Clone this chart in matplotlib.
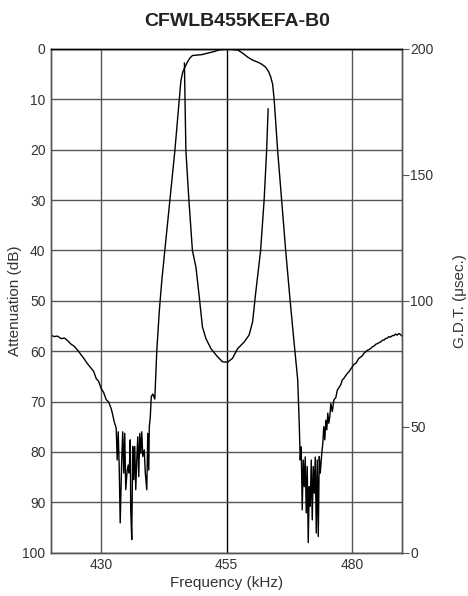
import matplotlib
matplotlib.use("Agg")
import matplotlib.pyplot as plt

plt.rcParams['font.family'] = ['Liberation Sans', 'DejaVu Sans']

title = "CFWLB455KEFA-B0"
x_ticks = [430, 455, 480]
att_ticks = [0, 10, 20, 30, 40, 50, 60, 70, 80, 90, 100]
gdt_ticks = [0, 50, 100, 150, 200]

# Attenuation curve (kHz, dB)
att_freq = [420.0, 420.6, 421.3, 422.0, 422.7, 423.3, 424.0, 424.6, 425.3, 425.9,
            426.6, 427.2, 428.0, 428.5, 429.0, 429.5, 430.0, 430.5, 431.0, 431.5,
            432.0, 432.3, 432.6, 432.8,
            433.0, 433.2, 433.4, 433.6, 433.8, 434.1, 434.3, 434.5, 434.7, 434.9,
            435.2, 435.4, 435.6, 435.8, 435.9, 436.1, 436.3, 436.5, 436.7, 436.9,
            437.1, 437.3, 437.5, 437.7, 437.9, 438.1, 438.3, 438.6, 438.8, 439.1,
            439.3, 439.5, 439.6, 439.8, 440.0, 440.3, 440.7,
            441.1, 441.6, 442.1, 442.7, 443.7, 444.7, 445.2, 445.6, 445.9, 446.3,
            446.8, 447.2, 447.7, 448.2, 449.2, 450.2, 450.9, 452.2, 453.5, 455.2,
            457.2, 458.2, 459.2, 460.2, 461.2, 462.0, 462.8, 463.4, 463.8, 464.2,
            464.5, 465.2, 466.0, 466.8, 467.6, 468.4, 469.2, 469.5,
            469.7, 469.9, 470.1, 470.3, 470.5, 470.7, 470.9, 471.1, 471.3, 471.5,
            471.7, 471.9, 472.1, 472.3, 472.5, 472.7, 472.9, 473.1, 473.3, 473.5,
            473.7, 474.0, 474.2, 474.4, 474.6, 474.8, 475.0, 475.2, 475.4, 475.6,
            475.8, 476.1, 476.4, 476.8, 477.1, 477.4, 477.8, 478.1, 478.4, 478.8,
            479.1, 479.4, 479.8, 480.1, 480.4, 480.8, 481.1, 481.4, 481.8, 482.1,
            482.4, 482.8, 483.1, 483.4, 483.8, 484.1, 484.4, 484.8, 485.1, 485.4,
            485.7, 486.1, 486.4, 486.7, 487.1, 487.4, 487.7, 488.1, 488.4, 488.7,
            489.0, 489.4, 489.7, 490.0]
att_db = [56.8, 57.1, 57.0, 57.5, 57.4, 57.9, 58.6, 59.0, 59.8, 60.6,
          61.5, 62.4, 63.4, 64.0, 65.4, 66.0, 67.4, 68.2, 69.6, 70.1,
          71.4, 72.6, 74.0, 74.6,
          75.3, 81.6, 76.0, 82.9, 94.1, 81.6, 76.0, 84.2, 76.3, 87.5,
          83.6, 82.6, 84.2, 77.6, 91.5, 97.4, 78.9, 85.5, 78.9, 87.5,
          81.6, 77.0, 84.9, 76.3, 80.3, 76.0, 80.9, 79.6, 84.2, 87.5,
          76.3, 83.6, 75.0, 73.0, 69.0, 68.5, 69.5,
          59.8, 52.0, 45.9, 40.0, 30.0, 20.2, 14.3, 9.5, 6.3, 4.5,
          3.4, 2.6, 1.8, 1.3, 1.2, 1.1, 0.9, 0.6, 0.2, 0.0,
          0.2, 0.8, 1.6, 2.2, 2.6, 3.0, 3.6, 4.5, 5.5, 7.0,
          10.0, 20.2, 30.0, 40.0, 49.0, 57.5, 65.7, 74.3,
          81.6, 79.0, 91.5, 81.6, 86.9, 81.0, 92.1, 82.9, 98.0, 86.9,
          90.8, 81.6, 93.5, 82.9, 88.2, 81.0, 96.1, 81.6, 96.8, 80.9,
          84.2, 80.3, 78.3, 75.0, 77.6, 73.7, 75.6, 72.3, 74.3, 73.0,
          70.4, 72.0, 69.7, 69.2, 67.7, 67.3, 66.6, 65.7, 65.4, 64.8,
          64.4, 64.1, 63.5, 63.1, 62.6, 62.4, 61.9, 61.4, 61.1, 60.9,
          60.4, 60.1, 59.8, 59.7, 59.4, 59.1, 59.0, 58.6, 58.5, 58.3,
          58.2, 57.8, 57.8, 57.5, 57.4, 57.1, 57.2, 56.9, 56.9, 56.6,
          56.8, 56.5, 56.7, 57.0]

# Group delay time curve (kHz, usec)
gdt_freq = [446.6, 446.9, 447.5, 448.2, 448.9, 449.5, 450.2, 450.9, 451.9, 453.2,
            454.2, 455.2, 456.2, 457.2, 458.5, 459.5, 460.2, 460.8, 461.5, 461.8,
            462.5, 463.0, 463.3]
gdt_us = [194.4, 159.6, 140.0, 120.0, 113.4, 102.8, 89.6, 85.0, 81.0, 77.8,
          75.8, 75.6, 77.2, 81.0, 83.6, 86.4, 91.6, 102.8, 114.8, 120.0,
          140.0, 159.6, 176.2]

fig = plt.figure(figsize=(4.68, 5.96), dpi=100)
ax = fig.add_axes([0.109, 0.0727, 0.75, 0.8451])
ax2 = ax.twinx()

ax.set_xlim(420, 490)
ax.set_ylim(100, 0)
ax2.set_ylim(0, 200)

ax.set_xticks(x_ticks)
ax.set_yticks(att_ticks)
ax2.set_yticks(gdt_ticks)

ax.grid(True, color='#555555', linewidth=1.0)
for gl, v in zip(ax.get_xgridlines(), x_ticks):
    if v == 455:
        gl.set_color('black')
ax.set_axisbelow(True)

ax.plot(att_freq, att_db, color='black', linewidth=1.0)
ax2.plot(gdt_freq, gdt_us, color='black', linewidth=1.0)

for a in (ax, ax2):
    for s in a.spines.values():
        s.set_color('#555555')
        s.set_linewidth(1.0)
    a.spines['top'].set_color('black')

ax.tick_params(axis='both', length=0, pad=4, labelsize=10, colors='#333333')
ax2.tick_params(axis='y', length=5, direction='out', pad=1, labelsize=10,
                colors='#333333', color='#555555')

ax.set_xlabel('Frequency (kHz)', fontsize=11, color='#333333', labelpad=3)
ax.set_ylabel('Attenuation (dB)', fontsize=11, color='#333333', labelpad=0)
ax2.set_ylabel('G.D.T. (μsec.)', fontsize=11, color='#333333', labelpad=14)
fig.suptitle(title, x=0.507, y=0.978, fontsize=14, fontweight='bold', color='#222222')

fig.savefig('out.png', dpi=100)
